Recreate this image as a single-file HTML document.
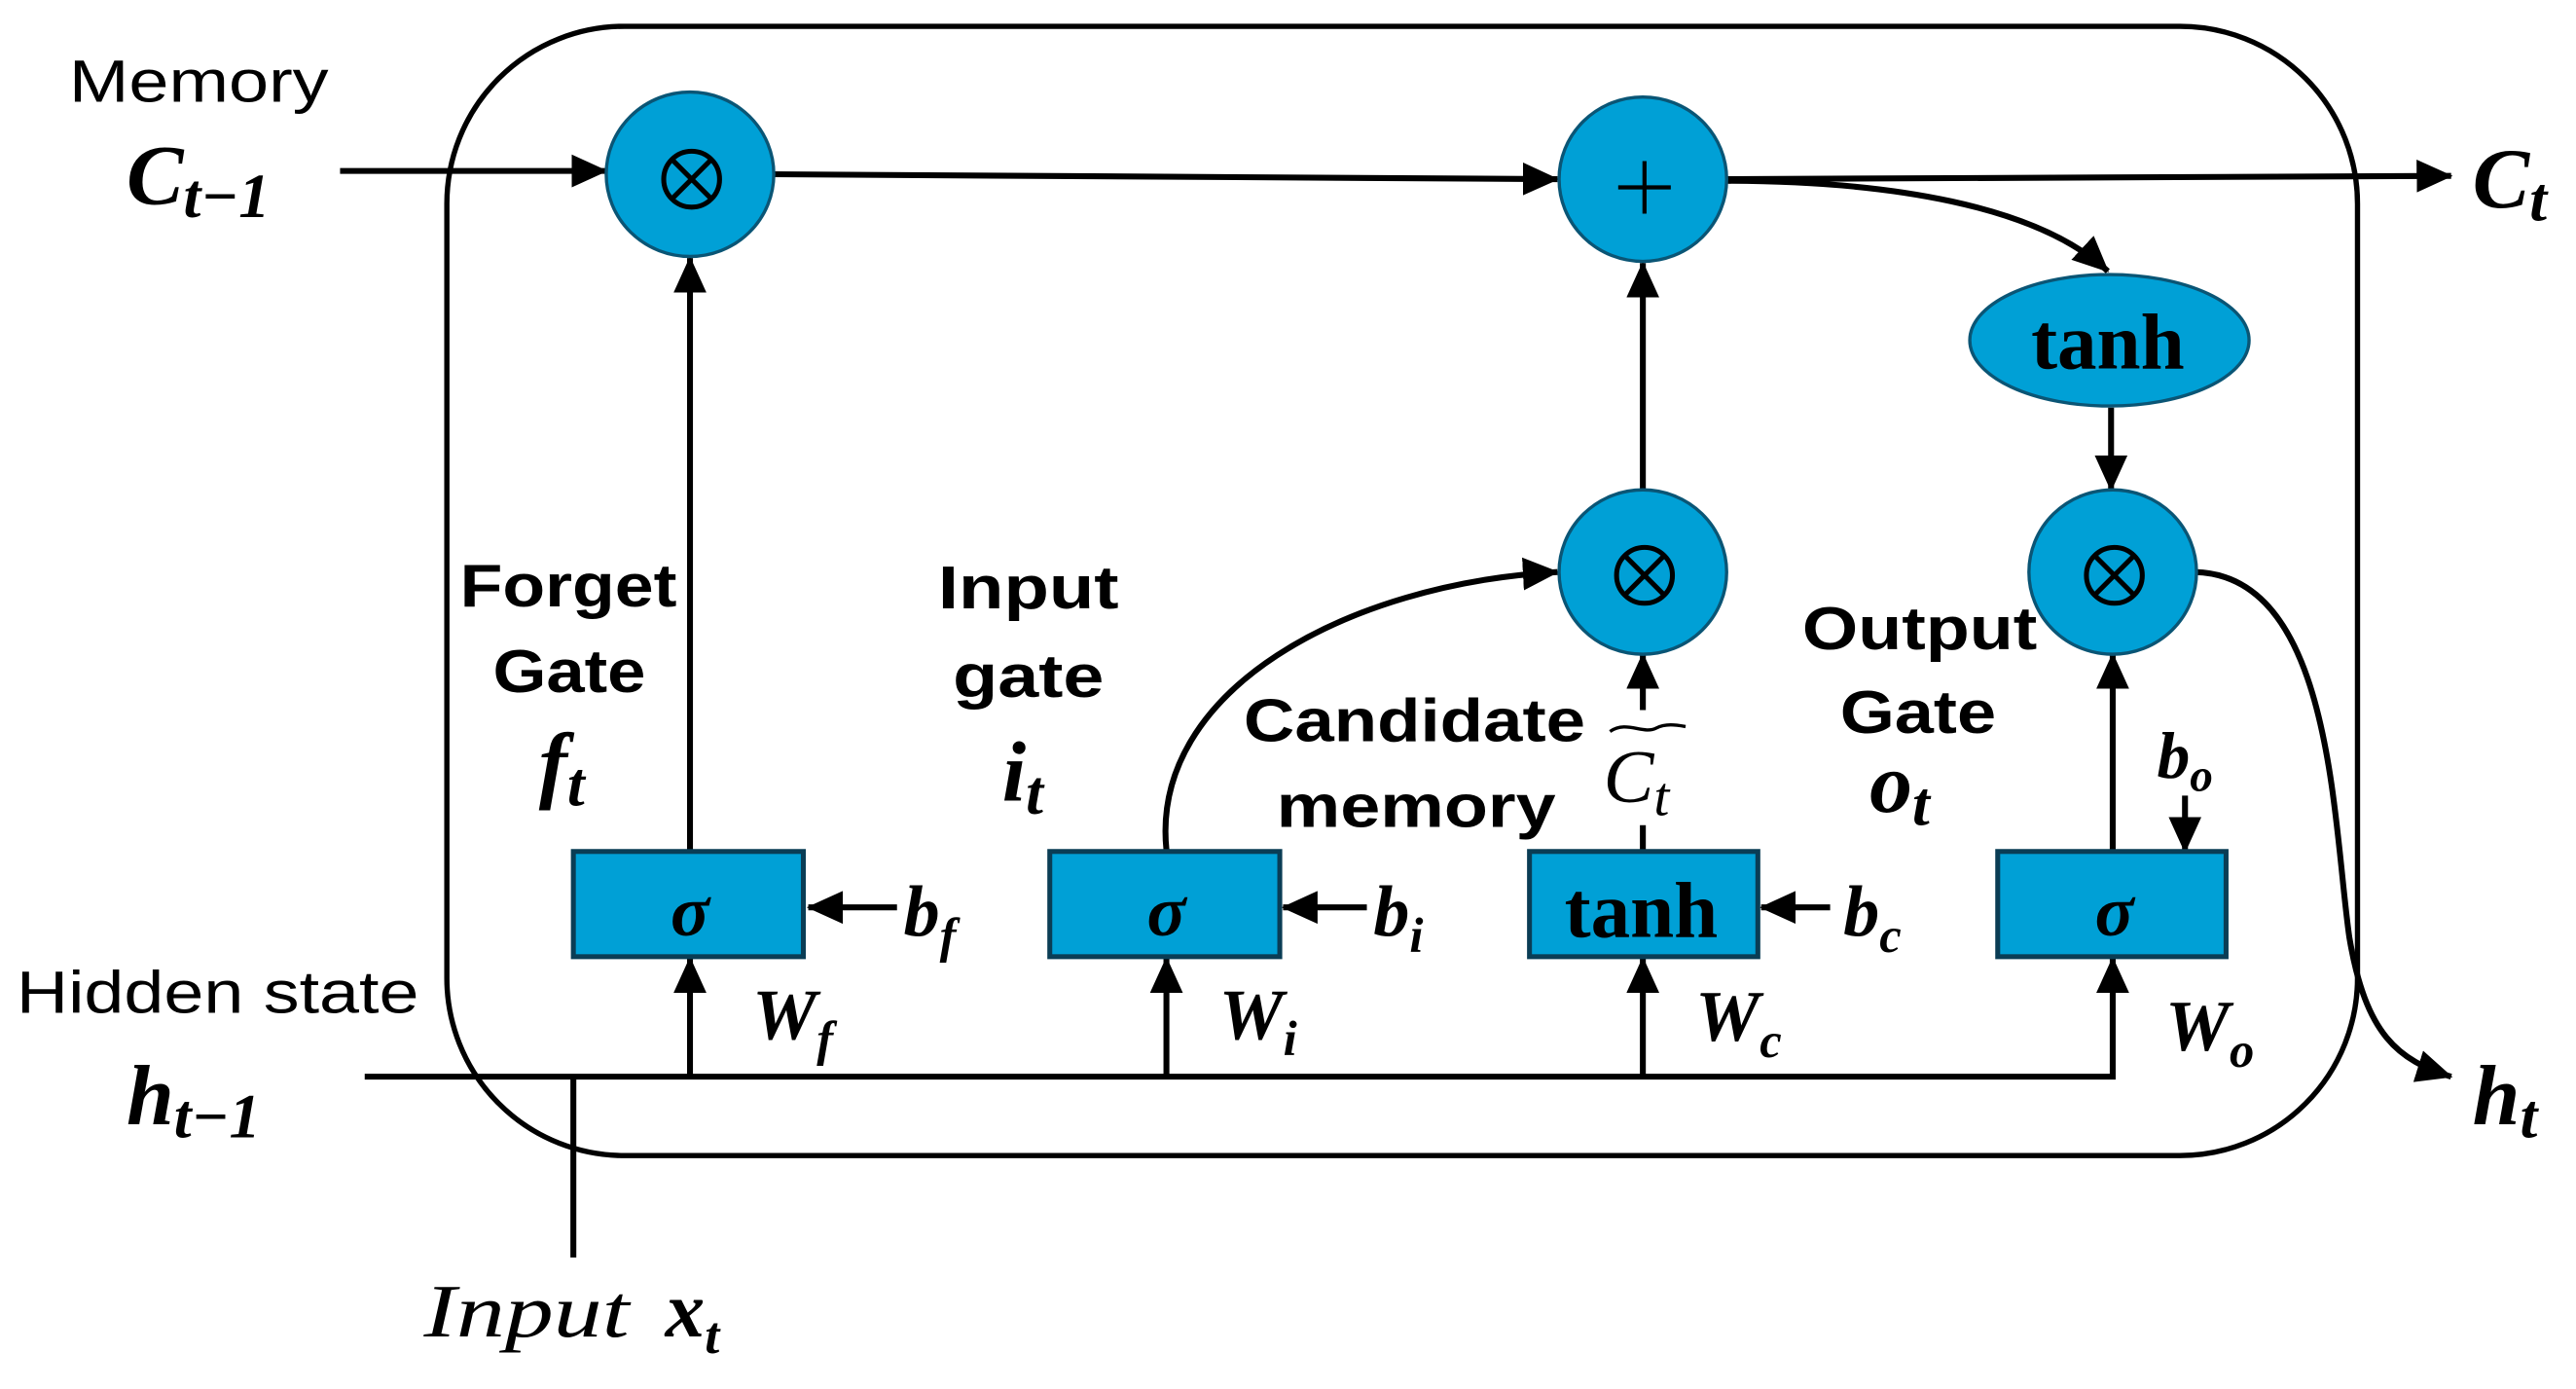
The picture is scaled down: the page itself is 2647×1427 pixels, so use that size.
<!DOCTYPE html>
<html><head><meta charset="utf-8"><style>
html,body{margin:0;padding:0;background:#fff;width:2647px;height:1427px;overflow:hidden}
svg{display:block}
.s{font-family:"Liberation Sans",sans-serif}
.b{font-family:"Liberation Sans",sans-serif;font-weight:bold}
.m{font-family:"Liberation Serif",serif;font-weight:bold;font-style:italic}
.mi{font-family:"Liberation Serif",serif;font-style:italic}
.t{font-family:"Liberation Serif",serif;font-weight:bold}
</style></head><body>
<svg width="2647" height="1427" viewBox="0 0 1568 845" preserveAspectRatio="none" xmlns="http://www.w3.org/2000/svg">
<defs>
<marker id="A" markerWidth="22" markerHeight="20" refX="21" refY="10" orient="auto" markerUnits="userSpaceOnUse"><path d="M0,0 L22,10 L0,20 z" fill="#000"/></marker>
</defs>
<rect x="272" y="16" width="1163" height="687" rx="108" ry="108" fill="none" stroke="#000" stroke-width="3.2"/>
<g stroke="#000" stroke-width="3.6" fill="none">
<line x1="207" y1="104" x2="369" y2="104" marker-end="url(#A)"/>
<line x1="470" y1="106" x2="948" y2="109" marker-end="url(#A)"/>
<line x1="1050" y1="109" x2="1492" y2="107" marker-end="url(#A)"/>
<path d="M1050,110 C1150,110 1240,125 1283,165" marker-end="url(#A)"/>
<line x1="1285" y1="248" x2="1285" y2="298" marker-end="url(#A)"/>
<line x1="420" y1="517" x2="420" y2="157" marker-end="url(#A)"/>
<line x1="1000" y1="298" x2="1000" y2="160" marker-end="url(#A)"/>
<line x1="1000" y1="432" x2="1000" y2="398" marker-end="url(#A)"/>
<line x1="1000" y1="517" x2="1000" y2="502"/>
<line x1="1286" y1="517" x2="1286" y2="398" marker-end="url(#A)"/>
<path d="M710,517 C700,420 820,355 948,348" marker-end="url(#A)"/>
<path d="M1336,348 C1420,350 1420,500 1430,570 C1440,630 1460,645 1492,655" marker-end="url(#A)"/>
<polyline points="222,655 1286,655 1286,583" marker-end="url(#A)"/>
<line x1="349" y1="655" x2="349" y2="765"/>
<line x1="420" y1="655" x2="420" y2="583" marker-end="url(#A)"/>
<line x1="710" y1="655" x2="710" y2="583" marker-end="url(#A)"/>
<line x1="1000" y1="655" x2="1000" y2="583" marker-end="url(#A)"/>
<line x1="546" y1="552" x2="492" y2="552" marker-end="url(#A)"/>
<line x1="832" y1="552" x2="781" y2="552" marker-end="url(#A)"/>
<line x1="1114" y1="552" x2="1072" y2="552" marker-end="url(#A)"/>
<line x1="1330" y1="484" x2="1330" y2="518" marker-end="url(#A)"/>
</g>
<g fill="#00a0d6" stroke="#0a5575" stroke-width="2">
<ellipse cx="420" cy="106" rx="51" ry="50"/>
<ellipse cx="1000" cy="109" rx="51" ry="50"/>
<ellipse cx="1000" cy="348" rx="51" ry="50"/>
<ellipse cx="1286" cy="348" rx="51" ry="50"/>
<ellipse cx="1284" cy="207" rx="85" ry="40"/>
</g>
<g fill="#00a0d6" stroke="#0a3d55" stroke-width="3">
<rect x="349" y="518" width="140" height="64"/>
<rect x="639" y="518" width="140" height="64"/>
<rect x="931" y="518" width="139" height="64"/>
<rect x="1216" y="518" width="139" height="64"/>
</g>
<g stroke="#000" stroke-width="3" fill="none">
<circle cx="421" cy="109" r="17"/><line x1="409" y1="97" x2="433" y2="121"/><line x1="433" y1="97" x2="409" y2="121"/>
<circle cx="1001" cy="350" r="17"/><line x1="989" y1="338" x2="1013" y2="362"/><line x1="1013" y1="338" x2="989" y2="362"/>
<circle cx="1287" cy="350" r="17"/><line x1="1275" y1="338" x2="1299" y2="362"/><line x1="1299" y1="338" x2="1275" y2="362"/>
<line x1="1001" y1="98" x2="1001" y2="130" stroke-width="2.5"/><line x1="985" y1="114" x2="1017" y2="114" stroke-width="2.5"/>
</g>
<text x="1283" y="224" class="t" font-size="48" text-anchor="middle">tanh</text>
<text x="999" y="570" class="t" font-size="48" text-anchor="middle">tanh</text>
<text x="420" y="569" class="m" font-size="44" text-anchor="middle">σ</text>
<text x="710" y="569" class="m" font-size="44" text-anchor="middle">σ</text>
<text x="1287" y="569" class="m" font-size="44" text-anchor="middle">σ</text>
<text x="42" y="62" class="s" font-size="36" textLength="158" lengthAdjust="spacingAndGlyphs">Memory</text>
<text x="10" y="616" class="s" font-size="36" textLength="245" lengthAdjust="spacingAndGlyphs">Hidden state</text>
<text x="280" y="369" class="b" font-size="37" textLength="132" lengthAdjust="spacingAndGlyphs">Forget</text>
<text x="300" y="421" class="b" font-size="37" textLength="93" lengthAdjust="spacingAndGlyphs">Gate</text>
<text x="571" y="370" class="b" font-size="37" textLength="110" lengthAdjust="spacingAndGlyphs">Input</text>
<text x="580" y="424" class="b" font-size="37" textLength="92" lengthAdjust="spacingAndGlyphs">gate</text>
<text x="757" y="451" class="b" font-size="37" textLength="208" lengthAdjust="spacingAndGlyphs">Candidate</text>
<text x="777" y="503" class="b" font-size="37" textLength="170" lengthAdjust="spacingAndGlyphs">memory</text>
<text x="1097" y="395" class="b" font-size="37" textLength="143" lengthAdjust="spacingAndGlyphs">Output</text>
<text x="1120" y="446" class="b" font-size="37" textLength="95" lengthAdjust="spacingAndGlyphs">Gate</text>
<text x="77" y="124" class="m" font-size="52">C<tspan font-size="38" dy="8">t−1</tspan></text>
<text x="1505" y="126" class="m" font-size="52">C<tspan font-size="38" dy="8">t</tspan></text>
<text x="77" y="684" class="m" font-size="52">h<tspan font-size="38" dy="8">t−1</tspan></text>
<text x="1505" y="684" class="m" font-size="52">h<tspan font-size="38" dy="8">t</tspan></text>
<text x="328" y="482" class="m" font-size="52">f<tspan font-size="38" dy="8">t</tspan></text>
<text x="610" y="487" class="m" font-size="52">i<tspan font-size="38" dy="8">t</tspan></text>
<text x="1138" y="494" class="m" font-size="52">o<tspan font-size="38" dy="8">t</tspan></text>
<text x="976" y="488" class="mi" font-size="46">C<tspan font-size="34" dy="8">t</tspan></text>
<path d="M980,445 C990,438 1000,447 1008,443 C1014,440 1020,441 1026,442" stroke="#000" stroke-width="2" fill="none"/>
<text x="550" y="569" class="m" font-size="44">b<tspan font-size="30" dy="10">f</tspan></text>
<text x="836" y="569" class="m" font-size="44">b<tspan font-size="30" dy="10">i</tspan></text>
<text x="1122" y="569" class="m" font-size="44">b<tspan font-size="30" dy="10">c</tspan></text>
<text x="1313" y="473" class="m" font-size="40">b<tspan font-size="28" dy="8">o</tspan></text>
<text x="458" y="632" class="m" font-size="44">W<tspan font-size="30" dy="10">f</tspan></text>
<text x="742" y="632" class="m" font-size="44">W<tspan font-size="30" dy="10">i</tspan></text>
<text x="1032" y="633" class="m" font-size="44">W<tspan font-size="30" dy="10">c</tspan></text>
<text x="1318" y="639" class="m" font-size="44">W<tspan font-size="30" dy="10">o</tspan></text>
<text x="258" y="813" class="mi" font-size="46" textLength="125" lengthAdjust="spacingAndGlyphs">Input</text>
<text x="405" y="813" class="m" font-size="48">x<tspan font-size="32" dy="10">t</tspan></text>
</svg>
</body></html>
